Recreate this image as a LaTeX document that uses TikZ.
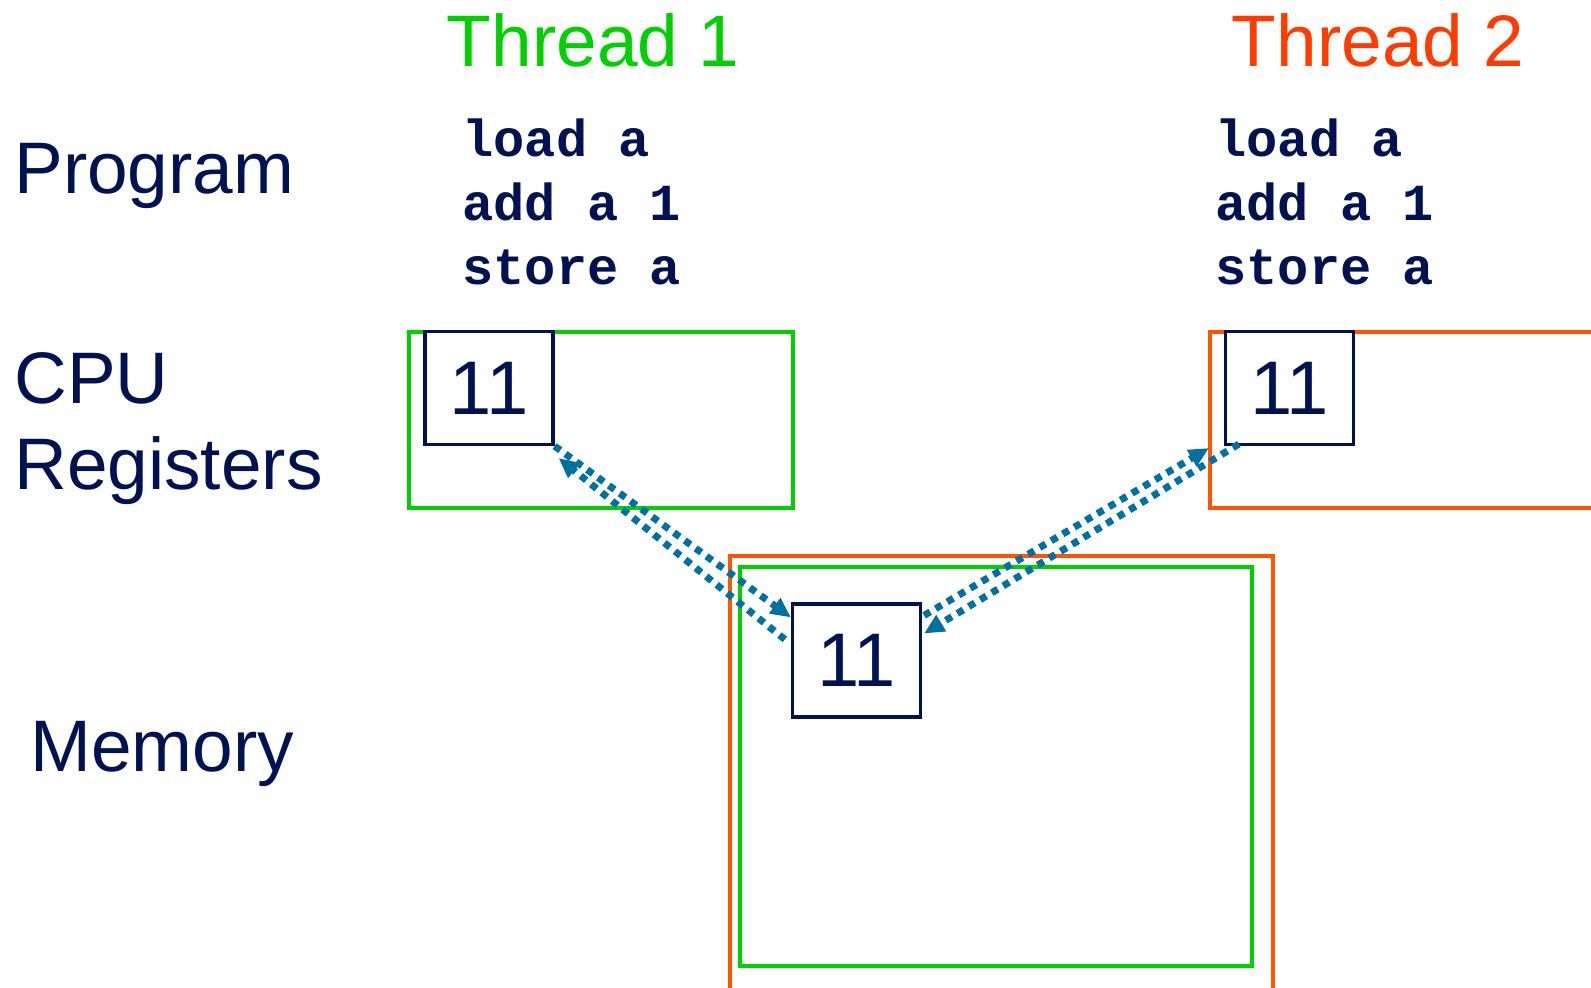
\documentclass[tikz,border=0pt]{standalone}
\usepackage{fontspec}
\setmainfont{Liberation Sans}
\newfontfamily\codefont{Liberation Mono}
\usetikzlibrary{arrows.meta,calc}
\definecolor{tgreen}{RGB}{0,208,0}
\definecolor{torange}{RGB}{255,84,0}
\definecolor{tred}{RGB}{255,60,0}
\definecolor{navy}{RGB}{0,18,82}
\definecolor{arrowblue}{RGB}{0,112,160}
\tikzset{
  label/.style={font=\fontsize{36.5}{40}\selectfont, text=navy, inner sep=0pt},
  code/.style={font=\codefont\bfseries\fontsize{26}{32}\selectfont, text=navy, inner sep=0pt, align=left},
  reg/.style={draw=navy, line width=1.6pt, minimum width=64pt, minimum height=56.5pt, inner sep=0pt, font=\fontsize{38}{40}\selectfont, text=navy, fill=white},
  gbox/.style={draw=tgreen, line width=2pt},
  obox/.style={draw=torange, line width=2pt},
  flow/.style={draw=arrowblue, line width=3.5pt, dash pattern=on 3.5pt off 3.2pt, -{Triangle[length=10pt,width=9pt]}}
}
\begin{document}
\begin{tikzpicture}[x=0.5pt,y=-0.5pt]
\useasboundingbox (0,0) rectangle (1591,987);
\clip (0,0) rectangle (1591,987);
% titles
\node[label, text=tgreen, anchor=base] (t1) at (593,66) {Thread 1};
\node[label, text=tred, anchor=base] (t2) at (1378,66) {Thread 2};
% row labels
\node[label, anchor=base west] (prog) at (14,193) {Program};
\node[label, anchor=base west] (cpu) at (14,403) {CPU};
\node[label, anchor=base west] (regs) at (14,489) {Registers};
\node[label, anchor=base west] (mem) at (30,771) {Memory};
% code
\node[code, anchor=base west] (c1a) at (462,156) {load a};
\node[code, anchor=base west] (c1b) at (462,220) {add a 1};
\node[code, anchor=base west] (c1c) at (462,284) {store a};
\node[code, anchor=base west] (c2a) at (1215,156) {load a};
\node[code, anchor=base west] (c2b) at (1215,220) {add a 1};
\node[code, anchor=base west] (c2c) at (1215,284) {store a};
% CPU boxes
\draw[gbox] (409,332) rectangle (793,508);
\draw[obox] (1210,332) rectangle (1640,508);
% memory boxes
\draw[obox] (730,556) rectangle (1273,1010);
\draw[gbox] (740,567) rectangle (1252,966);
% registers
\node[reg] (reg1) at (489,388) {11};
\node[reg] (reg2) at (1289.5,388) {11};
\node[reg] (memreg) at (856.5,660.5) {11};
% arrows
\draw[flow] (reg1.south east) -- ($(memreg.north west)+(0,15)$);
\draw[flow] ($(memreg.north west)+(-6,37)$) -- ($(reg1.south east)+(4,12)$);
\draw[flow] ($(reg2.south west)+(15,-2)$) -- ($(memreg.north east)+(2,31)$);
\draw[flow] ($(memreg.north east)+(2,13)$) -- ($(reg2.south west)+(-15,2)$);
\end{tikzpicture}
\end{document}
